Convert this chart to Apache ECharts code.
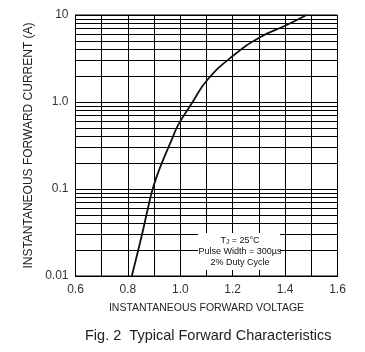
<!DOCTYPE html>
<html>
<head>
<meta charset="utf-8">
<script src="https://cdn.jsdelivr.net/npm/echarts@6/dist/echarts.min.js"></script>
<style>
  html, body { margin: 0; padding: 0; background: #fff; }
  #chart { width: 365px; height: 352px; }
</style>
</head>
<body>
<div id="chart"></div>
<script>
// forward voltage (V) vs forward current (A)
const voltage = [0.815, 0.855, 0.878, 0.897, 0.929, 0.967, 0.992, 1.044, 1.103, 1.205, 1.304, 1.406, 1.482]
const current = [0.01, 0.031, 0.063, 0.106, 0.197, 0.366, 0.545, 0.966, 1.79, 3.47, 5.54, 7.67, 10]

// log grid lines between the decades
const minorGrid = [0.02, 0.03, 0.04, 0.05, 0.06, 0.07, 0.08, 0.09,
  0.2, 0.3, 0.4, 0.5, 0.6, 0.7, 0.8, 0.9,
  2, 3, 4, 5, 6, 7, 8, 9]
const yTickLabels = { 0.01: '0.01', 0.1: '0.1', 1: '1.0', 10: '10' }

const chart = echarts.init(document.getElementById('chart'))
const font = 'Liberation Sans, Arial, sans-serif'

const option = {
  animation: false,
  title: {
    text: 'Fig. 2  Typical Forward Characteristics',
    left: 80,
    top: 323,
    textStyle: { fontFamily: font, fontSize: 14.5, fontWeight: 'normal', color: '#222' }
  },
  grid: {
    left: 75.5,
    right: 27.5,
    top: 15,
    bottom: 76,
    show: true,
    borderColor: '#000',
    borderWidth: 1
  },
  xAxis: {
    type: 'value',
    min: 0.6,
    max: 1.6,
    interval: 0.1,
    name: 'INSTANTANEOUS FORWARD VOLTAGE',
    nameLocation: 'middle',
    nameGap: 27,
    nameTextStyle: { fontFamily: font, fontSize: 10.5, color: '#222' },
    axisLine: { lineStyle: { color: '#000', width: 1 } },
    axisTick: { show: false },
    axisLabel: {
      margin: 8,
      fontFamily: font,
      fontSize: 12,
      color: '#333',
      formatter: v => (Math.round(v * 10) % 2 === 0 ? v.toFixed(1) : '')
    },
    splitLine: { show: true, lineStyle: { color: '#000', width: 1 } }
  },
  yAxis: {
    type: 'log',
    logBase: 10,
    min: 0.01,
    max: 10,
    name: 'INSTANTANEOUS FORWARD CURRENT (A)',
    nameLocation: 'middle',
    nameGap: 40,
    nameTextStyle: { fontFamily: font, fontSize: 12, color: '#222' },
    axisLine: { show: true, lineStyle: { color: '#000', width: 1 } },
    axisTick: { show: false },
    axisLabel: {
      margin: 7,
      fontFamily: font,
      fontSize: 12,
      color: '#333',
      formatter: v => yTickLabels[v] ?? String(v)
    },
    splitLine: { show: true, lineStyle: { color: '#000', width: 1 } }
  },
  series: [
    {
      type: 'line',
      data: voltage.map((v, i) => [v, current[i]]),
      smooth: 0.5,
      showSymbol: false,
      lineStyle: { color: '#111', width: 1.8 },
      z: 3,
      markLine: {
        silent: true,
        symbol: 'none',
        label: { show: false },
        lineStyle: { color: '#000', width: 1, type: 'solid' },
        data: minorGrid.map(v => ({ yAxis: v })),
        z: 1
      }
    }
  ],
  graphic: [
    {
      type: 'rect',
      shape: { x: 198, y: 233, width: 82, height: 37 },
      style: { fill: '#fff' },
      z: 10
    },
    {
      type: 'text',
      x: 240,
      y: 235,
      z: 11,
      style: {
        text: 'T{sub|J} = 25°C\nPulse Width = 300µs\n2% Duty Cycle',
        align: 'center',
        font: '9px ' + font,
        fill: '#111',
        lineHeight: 11,
        rich: {
          sub: { fontSize: 6.5, fontFamily: font, fill: '#111', verticalAlign: 'bottom', padding: [4, 0, 0, 0] }
        }
      }
    }
  ]
}

chart.setOption(option)
</script>
</body>
</html>
